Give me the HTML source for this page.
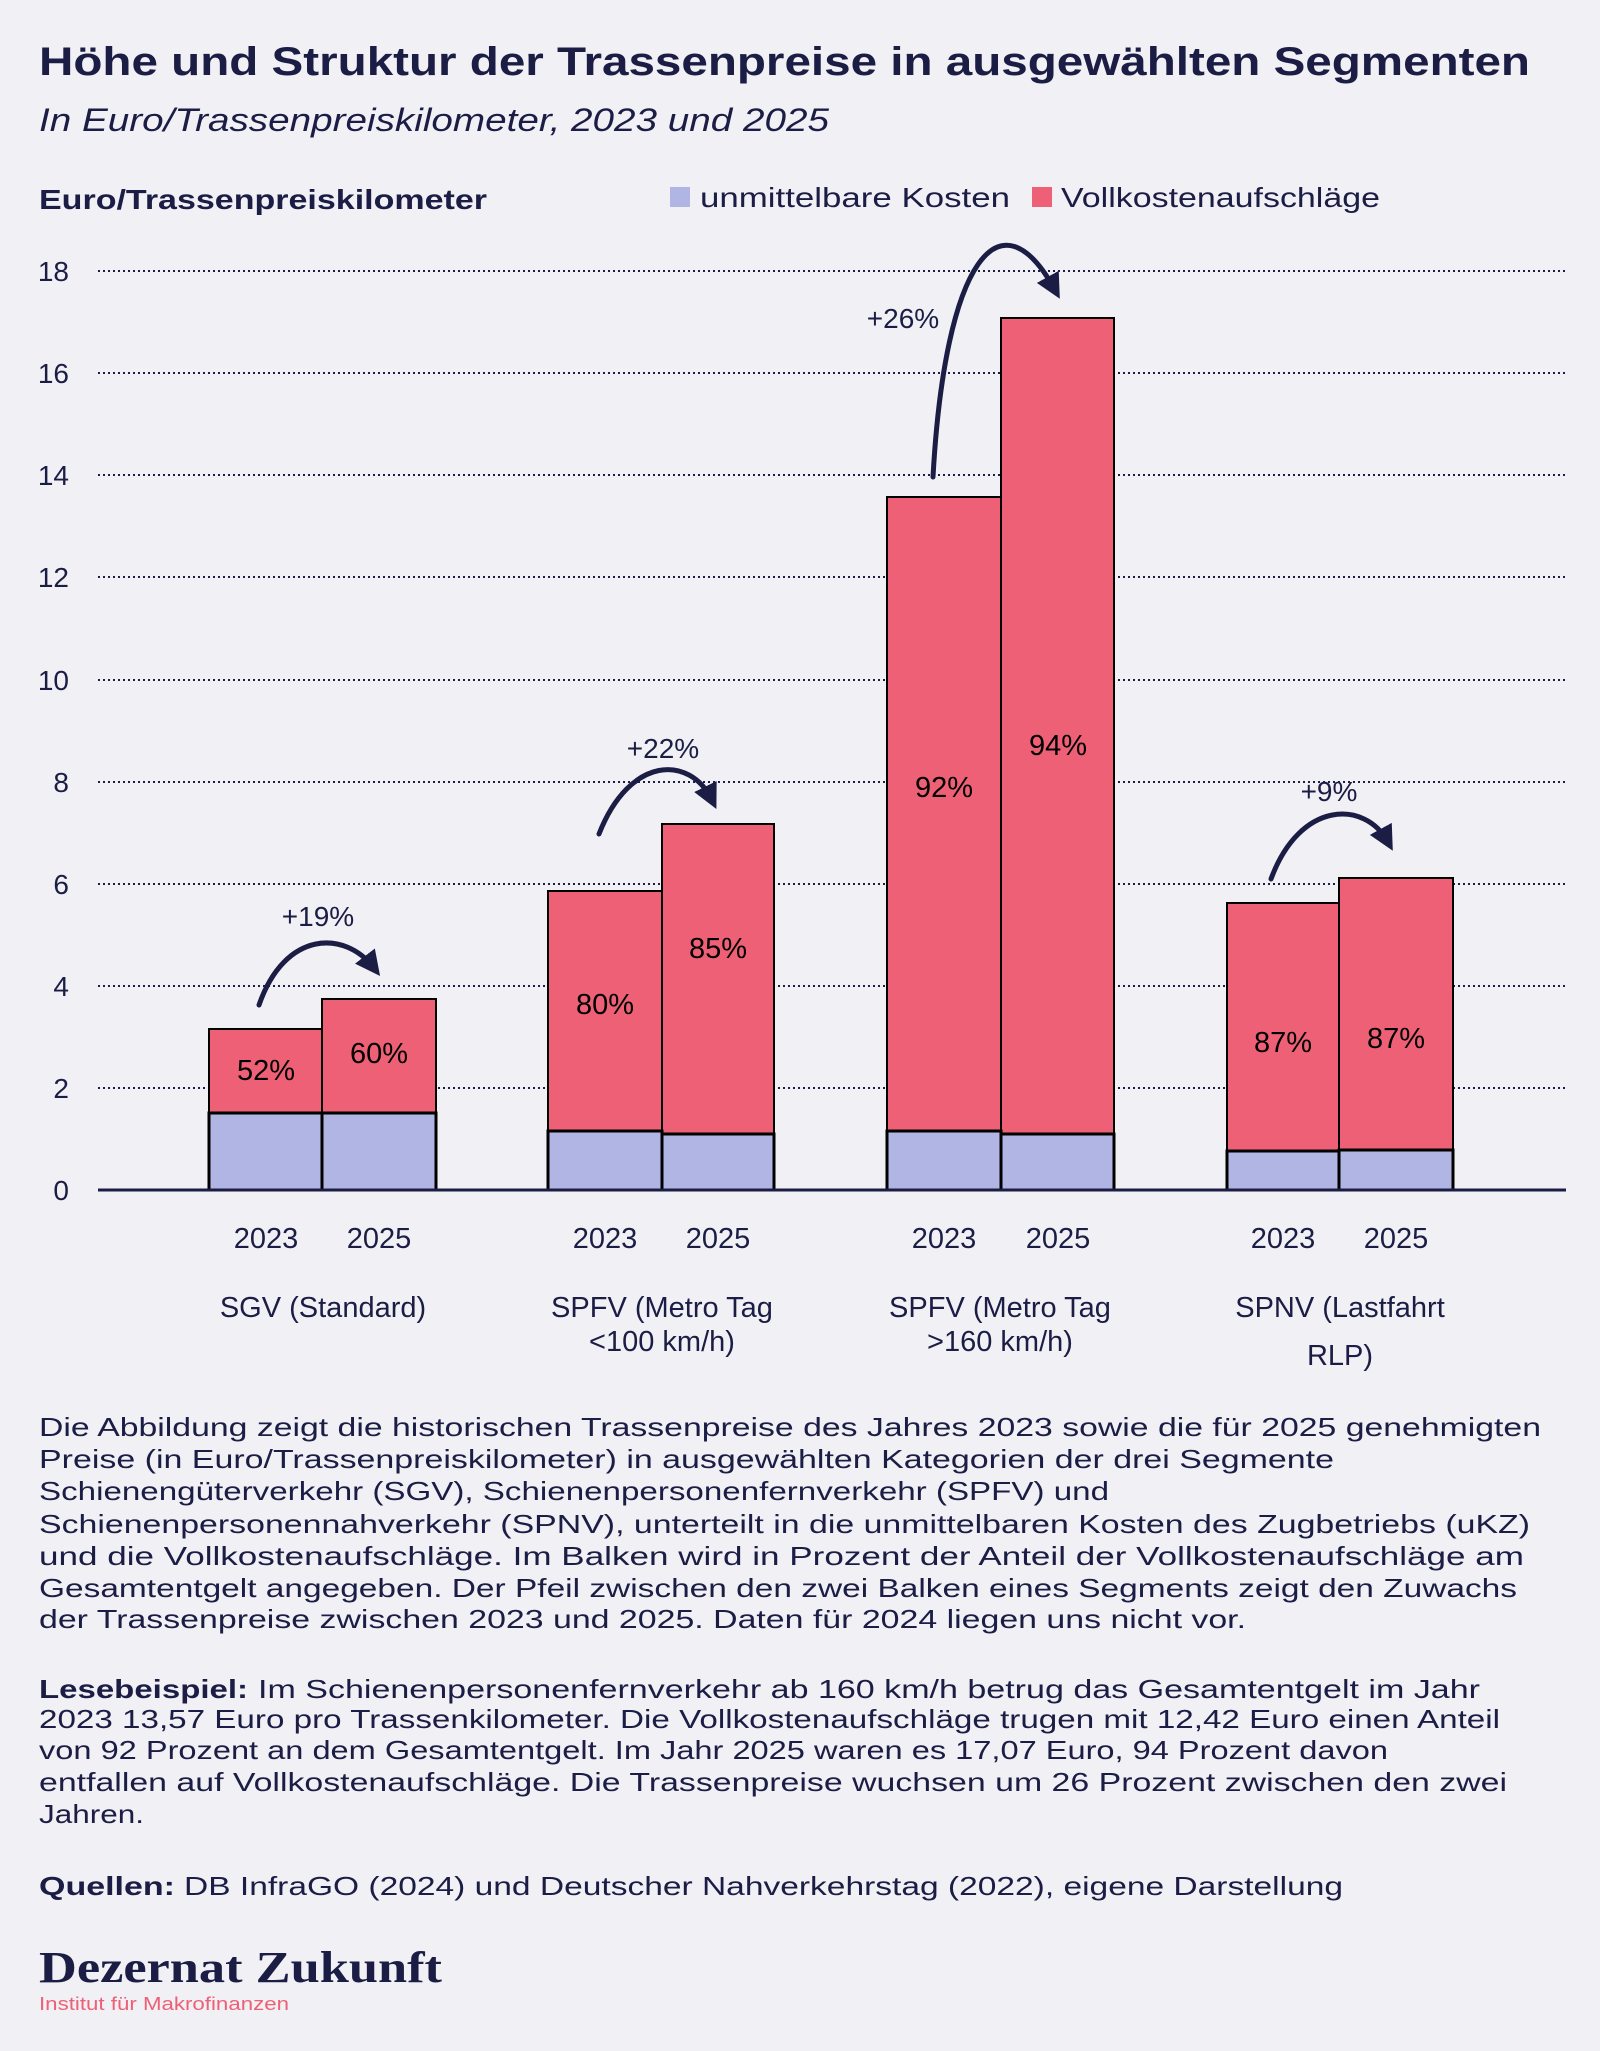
<!DOCTYPE html>
<html><head><meta charset="utf-8"><style>
html,body{margin:0;padding:0;background:#f0f0f5;}
svg{display:block;font-family:"Liberation Sans",sans-serif;}
</style></head><body>
<svg width="1600" height="2051" viewBox="0 0 1600 2051" xmlns="http://www.w3.org/2000/svg">
<defs>
<marker id="ah" viewBox="0 0 10 10" refX="6" refY="5" markerWidth="5" markerHeight="5" orient="auto" markerUnits="strokeWidth">
<path d="M0,0 L10,5 L0,10 z" fill="#1b1d45"/>
</marker>
</defs>
<rect width="1600" height="2051" fill="#f0f0f5"/>
<g fill="#1b1d45">
<text x="39" y="75" font-size="40" font-weight="bold" textLength="1491" lengthAdjust="spacingAndGlyphs">Höhe und Struktur der Trassenpreise in ausgewählten Segmenten</text>
<text x="39" y="131" font-size="32" font-style="italic" textLength="790" lengthAdjust="spacingAndGlyphs">In Euro/Trassenpreiskilometer, 2023 und 2025</text>
<text x="39" y="209" font-size="28" font-weight="bold" textLength="448" lengthAdjust="spacingAndGlyphs">Euro/Trassenpreiskilometer</text>
<text x="700" y="207" font-size="28" textLength="310" lengthAdjust="spacingAndGlyphs">unmittelbare Kosten</text>
<text x="1061" y="207" font-size="28" textLength="319" lengthAdjust="spacingAndGlyphs">Vollkostenaufschläge</text>
</g>
<rect x="670" y="187" width="20" height="20" fill="#b1b5e3"/>
<rect x="1032" y="187" width="20" height="20" fill="#ee6075"/>

<g stroke="#1b1d45" stroke-width="2" stroke-dasharray="2,3">
<line x1="98" x2="1566" y1="271" y2="271"/>
<line x1="98" x2="1566" y1="373" y2="373"/>
<line x1="98" x2="1566" y1="475" y2="475"/>
<line x1="98" x2="1566" y1="577" y2="577"/>
<line x1="98" x2="1566" y1="680" y2="680"/>
<line x1="98" x2="1566" y1="782" y2="782"/>
<line x1="98" x2="1566" y1="884" y2="884"/>
<line x1="98" x2="1566" y1="986" y2="986"/>
<line x1="98" x2="1566" y1="1088" y2="1088"/>
</g>
<g fill="#1b1d45" font-size="28" text-anchor="end">
<text x="69" y="281">18</text><text x="69" y="383">16</text><text x="69" y="485">14</text>
<text x="69" y="587">12</text><text x="69" y="690">10</text><text x="69" y="792">8</text>
<text x="69" y="894">6</text><text x="69" y="996">4</text><text x="69" y="1098">2</text>
<text x="69" y="1200">0</text>
</g>

<g stroke="#000" stroke-width="2">
<rect x="209" y="1029" width="113" height="161" fill="#ee6075"/>
<rect x="322" y="999" width="114" height="191" fill="#ee6075"/>
<rect x="548" y="891" width="114" height="299" fill="#ee6075"/>
<rect x="662" y="824" width="112" height="366" fill="#ee6075"/>
<rect x="887" y="497" width="114" height="693" fill="#ee6075"/>
<rect x="1001" y="318" width="113" height="872" fill="#ee6075"/>
<rect x="1227" y="903" width="112" height="287" fill="#ee6075"/>
<rect x="1339" y="878" width="114" height="312" fill="#ee6075"/>
</g>
<g stroke="#000" stroke-width="3" fill="#b1b5e3">
<rect x="209" y="1113" width="113" height="77"/>
<rect x="322" y="1113" width="114" height="77"/>
<rect x="548" y="1131" width="114" height="59"/>
<rect x="662" y="1134" width="112" height="56"/>
<rect x="887" y="1131" width="114" height="59"/>
<rect x="1001" y="1134" width="113" height="56"/>
<rect x="1227" y="1151" width="112" height="39"/>
<rect x="1339" y="1150" width="114" height="40"/>
</g>
<line x1="98" x2="1566" y1="1190" y2="1190" stroke="#1b1d45" stroke-width="3"/>

<g fill="#000" font-size="29" text-anchor="middle">
<text x="266" y="1080">52%</text>
<text x="379" y="1063">60%</text>
<text x="605" y="1014">80%</text>
<text x="718" y="958">85%</text>
<text x="944" y="797">92%</text>
<text x="1058" y="755">94%</text>
<text x="1283" y="1052">87%</text>
<text x="1396" y="1048">87%</text>
</g>

<g fill="none" stroke="#1b1d45" stroke-width="5" stroke-linecap="round" marker-end="url(#ah)">
<path d="M259 1005 C 285 930, 345 930, 374 968"/>
<path d="M599 834 C 630 755, 690 755, 712 800"/>
<path d="M933 477 C 945 260, 1000 190, 1055 290"/>
<path d="M1271 879 C 1300 800, 1365 800, 1388 842"/>
</g>
<g fill="#1b1d45" font-size="28" text-anchor="middle">
<text x="318" y="926">+19%</text>
<text x="663" y="758">+22%</text>
<text x="903" y="328">+26%</text>
<text x="1329" y="801">+9%</text>
</g>

<g fill="#1b1d45" font-size="29" text-anchor="middle">
<text x="266" y="1248">2023</text><text x="379" y="1248">2025</text>
<text x="605" y="1248">2023</text><text x="718" y="1248">2025</text>
<text x="944" y="1248">2023</text><text x="1058" y="1248">2025</text>
<text x="1283" y="1248">2023</text><text x="1396" y="1248">2025</text>
<text x="323" y="1317">SGV (Standard)</text>
<text x="662" y="1317">SPFV (Metro Tag</text><text x="662" y="1351">&lt;100 km/h)</text>
<text x="1000" y="1317">SPFV (Metro Tag</text><text x="1000" y="1351">&gt;160 km/h)</text>
<text x="1340" y="1317">SPNV (Lastfahrt</text><text x="1340" y="1365">RLP)</text>
</g>

<g fill="#1b1d45" font-size="26">
<text x="39" y="1436" textLength="1502" lengthAdjust="spacingAndGlyphs">Die Abbildung zeigt die historischen Trassenpreise des Jahres 2023 sowie die für 2025 genehmigten</text>
<text x="39" y="1468" textLength="1295" lengthAdjust="spacingAndGlyphs">Preise (in Euro/Trassenpreiskilometer) in ausgewählten Kategorien der drei Segmente</text>
<text x="39" y="1500" textLength="1070" lengthAdjust="spacingAndGlyphs">Schienengüterverkehr (SGV), Schienenpersonenfernverkehr (SPFV) und</text>
<text x="39" y="1533" textLength="1491" lengthAdjust="spacingAndGlyphs">Schienenpersonennahverkehr (SPNV), unterteilt in die unmittelbaren Kosten des Zugbetriebs (uKZ)</text>
<text x="39" y="1565" textLength="1485" lengthAdjust="spacingAndGlyphs">und die Vollkostenaufschläge. Im Balken wird in Prozent der Anteil der Vollkostenaufschläge am</text>
<text x="39" y="1597" textLength="1478" lengthAdjust="spacingAndGlyphs">Gesamtentgelt angegeben. Der Pfeil zwischen den zwei Balken eines Segments zeigt den Zuwachs</text>
<text x="39" y="1628" textLength="1207" lengthAdjust="spacingAndGlyphs">der Trassenpreise zwischen 2023 und 2025. Daten für 2024 liegen uns nicht vor.</text>

<text x="39" y="1698" font-weight="bold" textLength="209" lengthAdjust="spacingAndGlyphs">Lesebeispiel:</text>
<text x="258" y="1698" textLength="1222" lengthAdjust="spacingAndGlyphs">Im Schienenpersonenfernverkehr ab 160 km/h betrug das Gesamtentgelt im Jahr</text>
<text x="39" y="1728" textLength="1461" lengthAdjust="spacingAndGlyphs">2023 13,57 Euro pro Trassenkilometer. Die Vollkostenaufschläge trugen mit 12,42 Euro einen Anteil</text>
<text x="39" y="1759" textLength="1349" lengthAdjust="spacingAndGlyphs">von 92 Prozent an dem Gesamtentgelt. Im Jahr 2025 waren es 17,07 Euro, 94 Prozent davon</text>
<text x="39" y="1791" textLength="1468" lengthAdjust="spacingAndGlyphs">entfallen auf Vollkostenaufschläge. Die Trassenpreise wuchsen um 26 Prozent zwischen den zwei</text>
<text x="39" y="1823" textLength="105" lengthAdjust="spacingAndGlyphs">Jahren.</text>

<text x="39" y="1895" font-weight="bold" textLength="136" lengthAdjust="spacingAndGlyphs">Quellen:</text>
<text x="184" y="1895" textLength="1159" lengthAdjust="spacingAndGlyphs">DB InfraGO (2024) und Deutscher Nahverkehrstag (2022), eigene Darstellung</text>
</g>

<text x="39" y="1982" font-family="Liberation Serif, serif" font-size="44" font-weight="bold" fill="#1b1d45" textLength="403" lengthAdjust="spacingAndGlyphs">Dezernat Zukunft</text>
<text x="39" y="2010" font-size="18" fill="#ee6075" textLength="250" lengthAdjust="spacingAndGlyphs">Institut für Makrofinanzen</text>
</svg>
</body></html>
